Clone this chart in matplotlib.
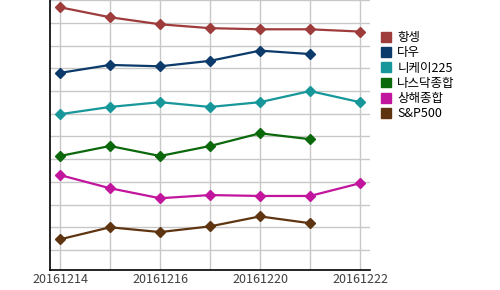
import numpy as np
import matplotlib
matplotlib.use("Agg")
import matplotlib.pyplot as plt
from matplotlib.patches import Patch

plt.rcParams['font.family'] = ['Noto Sans CJK KR', 'DejaVu Sans']

dates = ["20161214", "20161215", "20161216", "20161219", "20161220", "20161221", "20161222"]
shown = ["20161214", "", "20161216", "", "20161220", "", "20161222"]

hangseng = [11.69, 11.25, 10.94, 10.77, 10.72, 10.72, 10.62]
dow = [8.80, 9.15, 9.09, 9.33, 9.78, 9.63]
nikkei = [6.98, 7.30, 7.51, 7.30, 7.51, 8.00, 7.51]
nasdaq = [5.14, 5.58, 5.14, 5.58, 6.14, 5.88]
shanghai = [4.30, 3.72, 3.28, 3.42, 3.38, 3.38, 3.94]
sp500 = [1.47, 2.00, 1.79, 2.04, 2.48, 2.18]

names = ["항셍", "다우", "니케이225", "나스닥종합", "상해종합", "S&P500"]
series = [hangseng, dow, nikkei, nasdaq, shanghai, sp500]
colors = ["#9E3B3B", "#0C3A6A", "#18979A", "#0B690B", "#C2159E", "#5E3510"]

fig = plt.figure(figsize=(5, 2.9), dpi=100)
ax = fig.add_axes([0.1, 0.069, 0.64, 0.931])

for vals, col in zip(series, colors):
    x = np.arange(len(vals))
    ax.plot(x, vals, color=col, lw=1.6, marker='D', markersize=5.5, zorder=3)

ax.set_xlim(-0.2, 6.2)
ax.set_ylim(0.12, 12.01)
ax.set_xticks(np.arange(len(dates)))
ax.set_xticklabels(shown, fontsize=9, color="#404040")
ax.set_yticks(np.arange(1, 13))
ax.set_yticklabels([])
ax.tick_params(length=0, pad=2)
ax.grid(True, color="#c8c8c8", lw=1)
ax.set_axisbelow(True)
for s in ["top", "right"]:
    ax.spines[s].set_visible(False)
for s in ["left", "bottom"]:
    ax.spines[s].set_color("black")
    ax.spines[s].set_linewidth(1.2)

handles = [Patch(facecolor=c, edgecolor=c) for c in colors]
fig.legend(handles, names, loc="upper left", bbox_to_anchor=(0.752, 0.91),
           frameon=False, fontsize=9, handlelength=0.8, handleheight=0.8,
           handletextpad=0.5, labelspacing=0.18, borderaxespad=0)

fig.savefig("out.png", dpi=100)
